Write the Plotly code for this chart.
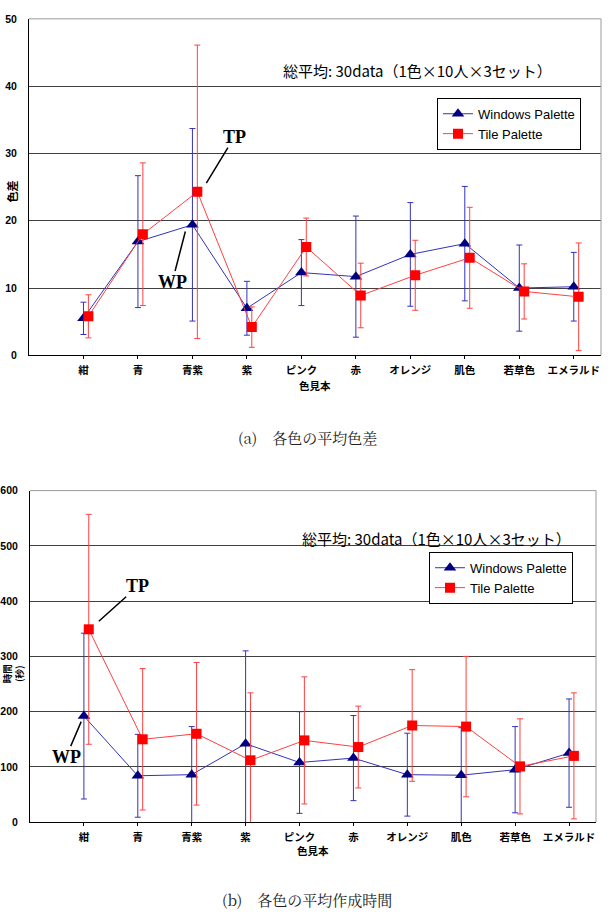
import plotly.graph_objects as go

categories = ["紺", "青", "青紫", "紫", "ピンク", "赤", "オレンジ", "肌色", "若草色", "エメラルド"]

diff_wp = [5.5, 16.9, 19.4, 7.0, 12.3, 11.7, 15.0, 16.6, 10.0, 10.2]
diff_wp_err = [2.4, 9.8, 14.3, 4.0, 4.9, 9.0, 7.7, 8.5, 6.4, 5.1]
diff_tp = [5.8, 18.0, 24.3, 4.2, 16.1, 8.9, 11.9, 14.5, 9.5, 8.7]
diff_tp_err = [3.2, 10.6, 21.8, 3.0, 4.3, 4.8, 5.2, 7.5, 4.1, 8.0]

time_wp = [192, 84, 86, 142, 108, 116, 86, 85, 95, 125]
time_wp_err = [150, 75, 87, 168, 92, 77, 75, 86, 78, 98]
time_tp = [349, 150, 160, 112, 148, 136, 175, 173, 101, 120]
time_tp_err = [208, 128, 129, 122, 115, 74, 101, 127, 86, 114]

series_names = ["Windows Palette", "Tile Palette"]

W, H = 615, 919
BLUE_M = "#000080"
BLUE_L = "#3333BB"
RED_M = "#FF0000"
RED_L = "#FF4040"
SANS = "Liberation Sans, Arial, sans-serif"
CJK = "Noto Sans CJK JP, sans-serif"

idx = list(range(len(categories)))
off = 0.09
x_wp = idx
x_tp = [i + off for i in idx]

fig = go.Figure()


def add_pair(xa, ya, legend, wp, wp_err, tp, tp_err):
    fig.add_trace(go.Scatter(
        x=x_wp, y=wp, name=series_names[0], mode="lines+markers",
        xaxis=xa, yaxis=ya, legend=legend,
        line=dict(color=BLUE_L, width=1),
        marker=dict(symbol="triangle-up", size=11, color=BLUE_M),
        error_y=dict(type="data", array=wp_err, visible=True, color=BLUE_L,
                     thickness=1, width=3),
    ))
    fig.add_trace(go.Scatter(
        x=x_tp, y=tp, name=series_names[1], mode="lines+markers",
        xaxis=xa, yaxis=ya, legend=legend,
        line=dict(color=RED_L, width=1),
        marker=dict(symbol="square", size=10, color=RED_M),
        error_y=dict(type="data", array=tp_err, visible=True, color=RED_L,
                     thickness=1, width=3),
    ))


add_pair("x", "y", "legend", diff_wp, diff_wp_err, diff_tp, diff_tp_err)
add_pair("x2", "y2", "legend2", time_wp, time_wp_err, time_tp, time_tp_err)

xcommon = dict(
    range=[-1, 9.5], tickmode="array", tickvals=idx, ticktext=categories,
    showgrid=False, zeroline=False, showline=True, linecolor="black", linewidth=1,
    ticks="outside", ticklen=3, tickcolor="black",
    tickfont=dict(family=CJK, size=10.5, color="black", weight="bold"),
    ticklabelstandoff=2,
)
ycommon = dict(
    showgrid=True, gridcolor="#404040", gridwidth=1, zeroline=False,
    showline=True, linecolor="black", linewidth=1, ticks="",
    tickfont=dict(family=SANS, size=10.5, color="black", weight="bold"),
    ticklabelstandoff=9,
)

legend_common = dict(xanchor="left", yanchor="top",
                     bordercolor="black", borderwidth=1, bgcolor="white",
                     font=dict(family=SANS, size=13, color="black"),
                     itemwidth=30, tracegroupgap=0)

fig.update_layout(
    width=W, height=H, margin=dict(l=0, r=0, t=0, b=0),
    paper_bgcolor="white", plot_bgcolor="white",
    xaxis=dict(domain=[29 / W, 601 / W], anchor="y", **xcommon),
    yaxis=dict(domain=[1 - 354 / H, 1 - 13 / H], range=[0, 50], dtick=10, anchor="x", **ycommon),
    xaxis2=dict(domain=[30 / W, 596 / W], anchor="y2", **xcommon),
    yaxis2=dict(domain=[1 - 827 / H, 1 - 491 / H], range=[0, 600], dtick=100, anchor="x2", **ycommon),
    legend=dict(x=437 / W, y=1 - 93 / H, **legend_common),
    legend2=dict(x=429 / W, y=1 - 553 / H, **legend_common),
    showlegend=True,
)

# gray top/right frame
for xd, yd in (("x domain", "y domain"), ("x2 domain", "y2 domain")):
    fig.add_shape(type="line", xref=xd, yref=yd, x0=0, x1=1, y0=1, y1=1,
                  line=dict(color="#9a9a9a", width=1), layer="above")
    fig.add_shape(type="line", xref=xd, yref=yd, x0=1, x1=1, y0=0, y1=1,
                  line=dict(color="#9a9a9a", width=1), layer="above")


def panno(text, px, py, font, **kw):
    d = dict(text=text, x=px / W, y=1 - py / H, xref="paper", yref="paper",
             xanchor="center", yanchor="middle", showarrow=False, font=font)
    d.update(kw)
    return d


bold_cjk = dict(family=CJK, size=10.5, color="black", weight="bold")
annos = [
    panno("色差", 12, 188, dict(family=CJK, size=11, color="black", weight="bold"), textangle=-90),
    panno("時間<br>(秒)", 13, 677, dict(family=CJK, size=9.5, color="black", weight="bold"), textangle=-90),
    panno("色見本", 315, 385, bold_cjk),
    panno("色見本", 313, 856, bold_cjk),
    panno("総平均: 30data（1色×10人×3セット）", 417, 65, dict(family=CJK, size=15, color="black")),
    panno("総平均: 30data（1色×10人×3セット）", 436, 540, dict(family=CJK, size=15, color="black")),
    panno("(a)　各色の平均色差", 307, 437,
          dict(family="Noto Serif CJK JP, " + CJK, size=15, color="#222")),
    panno("(b)　各色の平均作成時間", 307, 905,
          dict(family="Noto Serif CJK JP, " + CJK, size=15, color="#222")),
]

# TP / WP callouts
lab_font = dict(family="Liberation Serif, Times New Roman, serif", size=18, color="black",
                weight="bold")
for text, xr, yr, xv, yv, ax, ay in (
    ("TP", "x", "y", 2.255, 25.6, 28, -46),
    ("WP", "x", "y", 1.87, 18.4, -13, 50),
    ("TP", "x2", "y2", 0.277, 363.7, 39, -35),
    ("WP", "x2", "y2", -0.05, 182, -15, 35),
):
    annos.append(dict(text=text, x=xv, y=yv, xref=xr, yref=yr, ax=ax, ay=ay,
                      showarrow=True, arrowhead=0, arrowwidth=1.5, arrowcolor="black",
                      standoff=0, borderpad=0, font=lab_font))

fig.update_layout(annotations=annos)

fig.write_html("out.html")
